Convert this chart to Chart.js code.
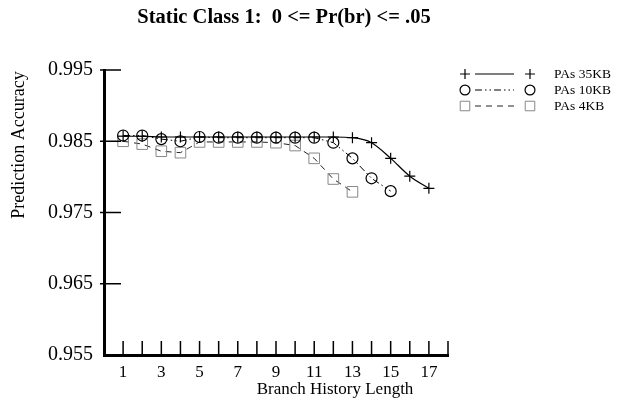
<!DOCTYPE html>
<html>
<head>
<meta charset="utf-8">
<script src="https://cdn.jsdelivr.net/npm/chart.js@4/dist/chart.umd.min.js"></script>
<style>
  html, body { margin: 0; padding: 0; background: #fff; }
  #wrap { width: 619px; height: 408px; }
</style>
</head>
<body>
<div id="wrap"><canvas id="chart" width="619" height="408"></canvas></div>
<script>
// branch history lengths (x) and accuracy per predictor size
const historyLengths = [1, 2, 3, 4, 5, 6, 7, 8, 9, 10, 11, 12, 13, 14, 15, 16, 17];
const acc35KB = [0.9857, 0.9857, 0.9856, 0.9856, 0.9856, 0.9856, 0.9856, 0.9856, 0.9856, 0.9856, 0.9856, 0.9856, 0.9855, 0.9848, 0.9826, 0.9801, 0.9784];
const acc10KB = [0.9858, 0.9858, 0.9853, 0.9850, 0.9856, 0.9855, 0.9855, 0.9855, 0.9855, 0.9855, 0.9855, 0.9848, 0.9826, 0.9798, 0.9780];
const acc4KB = [0.9850, 0.9846, 0.9836, 0.9834, 0.9849, 0.9849, 0.9849, 0.9849, 0.9848, 0.9844, 0.9826, 0.9797, 0.9779];
const seriesNames = ['PAs 35KB', 'PAs 10KB', 'PAs 4KB'];

const yTicks = [0.955, 0.965, 0.975, 0.985, 0.995];
const xTicks = [1, 2, 3, 4, 5, 6, 7, 8, 9, 10, 11, 12, 13, 14, 15, 16, 17, 18];
const xLabelled = [1, 3, 5, 7, 9, 11, 13, 15, 17];

const titleText = 'Static Class 1:  0 <= Pr(br) <= .05';
const xTitle = 'Branch History Length';
const yTitle = 'Prediction Accuracy';

const serif = '"Liberation Serif", "DejaVu Serif", serif';

function toPoints(vals) {
  return vals.map((v, i) => ({ x: historyLengths[i], y: v }));
}

// titles, inside tick marks and the legend
const decor = {
  id: 'decor',
  afterDraw(chart) {
    const ctx = chart.ctx;
    const xs = chart.scales.x, ys = chart.scales.y;
    const area = chart.chartArea;
    ctx.save();

    // tick marks
    ctx.strokeStyle = '#000';
    ctx.lineWidth = 1.5;
    ctx.beginPath();
    yTicks.forEach(v => {
      if (v === yTicks[0]) return;
      const py = ys.getPixelForValue(v);
      ctx.moveTo(area.left - 4, py);
      ctx.lineTo(area.left + 17, py);
    });
    xTicks.forEach(v => {
      const px = xs.getPixelForValue(v);
      ctx.moveTo(px, area.bottom + 2);
      ctx.lineTo(px, area.bottom - 14);
    });
    ctx.stroke();

    // titles
    ctx.fillStyle = '#000';
    ctx.textAlign = 'center';
    ctx.textBaseline = 'middle';
    ctx.font = 'bold 20.5px ' + serif;
    ctx.fillText(titleText, 284, 18);
    ctx.font = '17px ' + serif;
    ctx.fillText(xTitle, 335, 390);
    ctx.save();
    ctx.translate(19, 145);
    ctx.rotate(-Math.PI / 2);
    ctx.font = '18px ' + serif;
    ctx.fillText(yTitle, 0, 0);
    ctx.restore();

    // legend
    const rowY = [74, 90, 106];
    ctx.textAlign = 'left';
    ctx.font = '13.5px ' + serif;
    chart.data.datasets.forEach((ds, i) => {
      const y = rowY[i];
      ctx.save();
      ctx.strokeStyle = ds.borderColor;
      ctx.lineWidth = ds.borderWidth;
      ctx.setLineDash(ds.borderDash || []);
      ctx.beginPath();
      ctx.moveTo(475, y);
      ctx.lineTo(514, y);
      ctx.stroke();
      ctx.restore();
      const pt = {
        pointStyle: ds.pointStyle,
        radius: ds.pointRadius * 0.9,
        rotation: 0,
        borderWidth: ds.pointBorderWidth
      };
      [465, 530].forEach(px => {
        ctx.save();
        ctx.strokeStyle = ds.pointBorderColor;
        ctx.fillStyle = 'rgba(0,0,0,0)';
        ctx.lineWidth = ds.pointBorderWidth;
        Chart.helpers.drawPoint(ctx, pt, px, y);
        ctx.restore();
      });
      ctx.fillStyle = '#000';
      ctx.fillText(ds.label, 554, y);
    });

    ctx.restore();
  }
};

new Chart(document.getElementById('chart'), {
  type: 'line',
  data: {
    datasets: [
      {
        label: seriesNames[0],
        data: toPoints(acc35KB),
        borderColor: '#000',
        borderWidth: 1.2,
        cubicInterpolationMode: 'monotone',
        pointStyle: 'cross',
        pointRadius: 5.5,
        pointBorderWidth: 1.2,
        pointBorderColor: '#000',
        pointBackgroundColor: 'rgba(0,0,0,0)'
      },
      {
        label: seriesNames[1],
        data: toPoints(acc10KB),
        borderColor: '#000',
        borderWidth: 1,
        borderDash: [7, 3, 1.5, 3, 1.5, 3],
        tension: 0,
        pointStyle: 'circle',
        pointRadius: 5.5,
        pointBorderWidth: 1.2,
        pointBorderColor: '#000',
        pointBackgroundColor: 'rgba(0,0,0,0)'
      },
      {
        label: seriesNames[2],
        data: toPoints(acc4KB),
        borderColor: '#222',
        borderWidth: 1,
        borderDash: [6, 5],
        tension: 0,
        pointStyle: 'rect',
        pointRadius: 7.5,
        pointBorderWidth: 1,
        pointBorderColor: '#888',
        pointBackgroundColor: 'rgba(0,0,0,0)'
      }
    ]
  },
  options: {
    responsive: false,
    animation: false,
    events: [],
    layout: { padding: { left: 0, top: 70, right: 171, bottom: 0 } },
    plugins: {
      legend: { display: false },
      title: { display: false },
      tooltip: { enabled: false }
    },
    scales: {
      x: {
        type: 'linear',
        min: 0,
        max: 18,
        afterBuildTicks: s => { s.ticks = xTicks.map(v => ({ value: v })); },
        afterFit: s => { s.height = 53; },
        grid: { display: false, drawTicks: false },
        border: { display: true, color: '#000', width: 3 },
        ticks: {
          autoSkip: false,
          maxRotation: 0,
          padding: 7,
          color: '#000',
          font: { family: serif, size: 17 },
          callback: v => xLabelled.includes(v) ? String(v) : ''
        }
      },
      y: {
        min: 0.955,
        max: 0.995,
        afterBuildTicks: s => { s.ticks = yTicks.map(v => ({ value: v })); },
        afterFit: s => { s.width = 104; },
        grid: { display: false, drawTicks: false },
        border: { display: true, color: '#000', width: 3 },
        ticks: {
          padding: 11,
          color: '#000',
          font: { family: serif, size: 20 },
          callback: v => v.toFixed(3)
        }
      }
    }
  },
  plugins: [decor]
});
</script>
</body>
</html>
